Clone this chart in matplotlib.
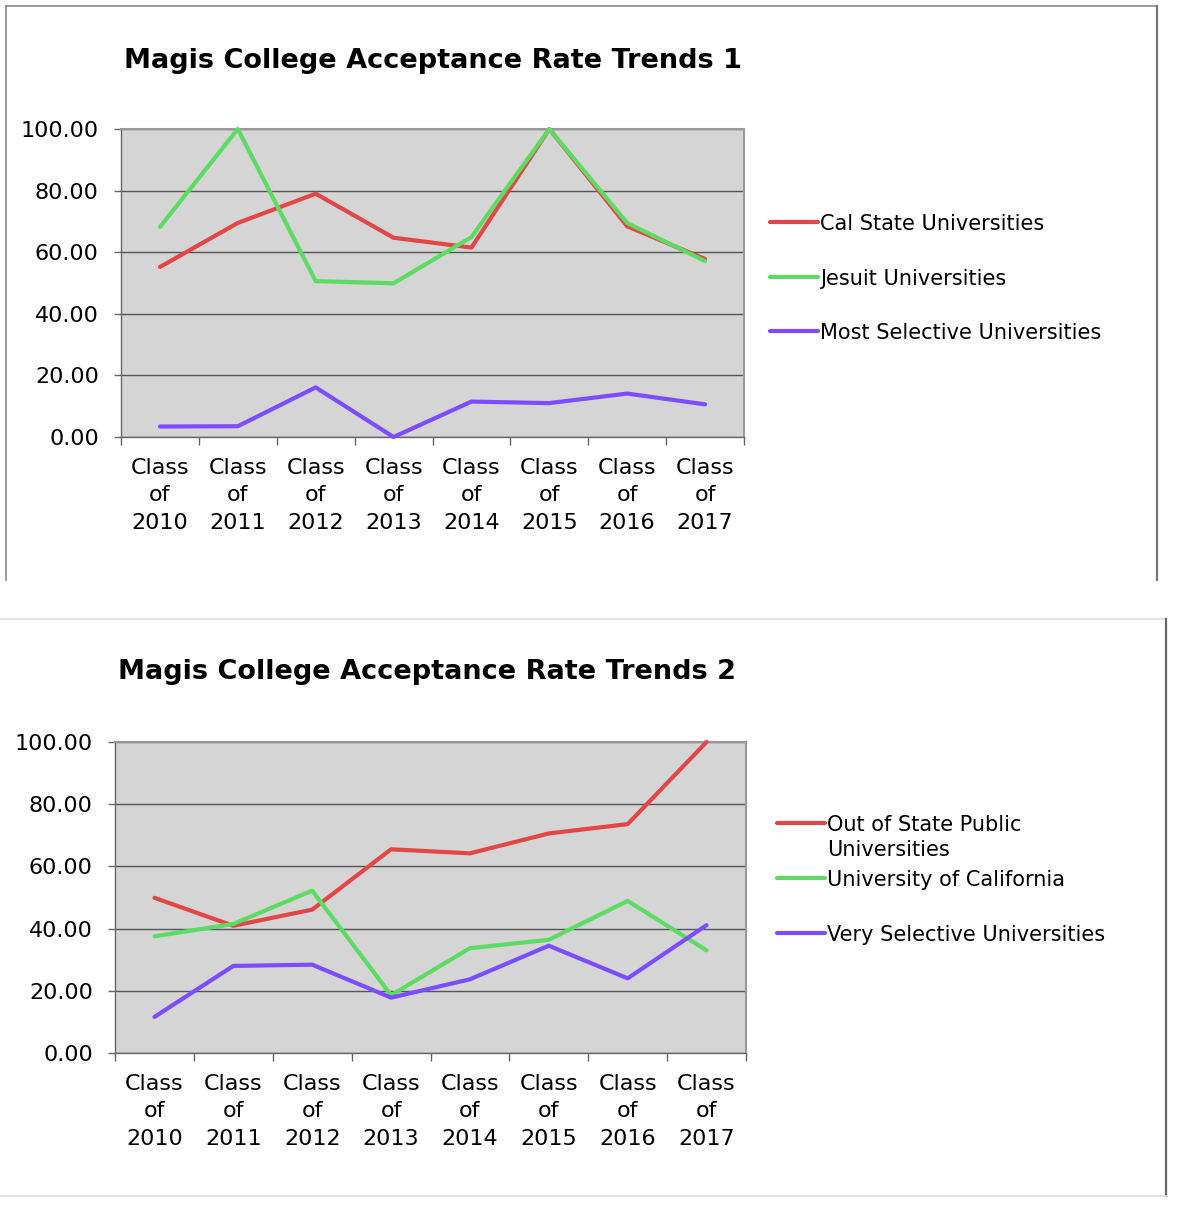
import matplotlib
matplotlib.use("Agg")
import matplotlib.pyplot as plt
from matplotlib.lines import Line2D
from matplotlib.ticker import FixedLocator, FormatStrFormatter

# --- data ---
classes = ["Class\nof\n2010", "Class\nof\n2011", "Class\nof\n2012", "Class\nof\n2013",
           "Class\nof\n2014", "Class\nof\n2015", "Class\nof\n2016", "Class\nof\n2017"]

cal_state = [55.2, 69.5, 79.0, 64.7, 61.5, 100.0, 68.4, 57.8]
jesuit = [68.2, 100.0, 50.6, 49.9, 64.9, 100.0, 69.5, 57.1]
most_selective = [3.4, 3.5, 16.1, 0.0, 11.5, 11.0, 14.1, 10.6]

out_of_state = [49.9, 40.9, 46.1, 65.5, 64.2, 70.6, 73.6, 100.0]
univ_california = [37.5, 41.5, 52.2, 18.6, 33.7, 36.4, 48.9, 33.0]
very_selective = [11.6, 28.0, 28.4, 17.8, 23.7, 34.5, 24.0, 41.1]

labels_1 = ["Cal State Universities", "Jesuit Universities", "Most Selective Universities"]
labels_2 = ["Out of State Public\nUniversities", "University of California",
            "Very Selective Universities"]
titles = ["Magis College Acceptance Rate Trends 1", "Magis College Acceptance Rate Trends 2"]

colors = ["#e24646", "#5cdc62", "#7c4cff"]

W, H = 1186, 1214
fig = plt.figure(figsize=(W / 100, H / 100), dpi=100)


def fx(px):
    return px / W


def fy(py):
    return 1 - py / H


def border(x0, y0, x1, y1, color, lw=1.2):
    fig.add_artist(Line2D([fx(x0), fx(x1)], [fy(y0), fy(y1)], color=color, lw=lw,
                          transform=fig.transFigure))


def draw_chart(box, series, labels, title, title_xy, leg_x, leg_y):
    left, top, right, bottom = box
    ax = fig.add_axes([fx(left), fy(bottom), fx(right - left), (bottom - top) / H])
    ax.set_facecolor("#d5d5d5")
    x = list(range(len(classes)))
    for vals, c in zip(series, colors):
        ax.plot(x, vals, color=c, lw=3, solid_capstyle="round", solid_joinstyle="round",
                clip_on=False, zorder=3)
    ax.set_xlim(-0.5, len(classes) - 0.5)
    ax.set_ylim(0, 100)
    ax.set_yticks(range(0, 101, 20))
    ax.yaxis.set_major_formatter(FormatStrFormatter("%.2f"))
    ax.set_xticks(x)
    ax.set_xticklabels(classes)
    for lbl in ax.get_xticklabels():
        lbl.set_linespacing(1.46)
    ax.xaxis.set_minor_locator(FixedLocator([i - 0.5 for i in range(len(classes) + 1)]))
    ax.tick_params(axis="x", which="major", length=0, pad=15, labelsize=16)
    ax.tick_params(axis="x", which="minor", length=6, color="#666666", width=1)
    ax.tick_params(axis="y", length=5, color="#666666", width=1, pad=11, labelsize=16)
    ax.grid(axis="y", color="#555555", lw=1)
    ax.set_axisbelow(True)
    for side in ["top", "right"]:
        ax.spines[side].set_color("#999999")
        ax.spines[side].set_linewidth(1.5)
    for side in ["left", "bottom"]:
        ax.spines[side].set_color("#666666")
        ax.spines[side].set_linewidth(1)

    fig.text(fx(title_xy[0]), fy(title_xy[1]), title, ha="center", va="center",
             fontsize=19.5, fontweight="bold")

    # legend drawn by hand so the swatch sits on the first text line
    for i, (lab, c) in enumerate(zip(labels, colors)):
        y = leg_y[i]
        fig.add_artist(Line2D([fx(leg_x), fx(leg_x + 48)], [fy(y), fy(y)], color=c, lw=3,
                              solid_capstyle="round", transform=fig.transFigure))
        for k, part in enumerate(lab.split("\n")):
            fig.text(fx(leg_x + 50), fy(y + 8 + 25 * k), part, ha="left", va="baseline",
                     fontsize=15)
    return ax


ax1 = draw_chart((121, 129, 744, 437), [cal_state, jesuit, most_selective], labels_1,
                 titles[0], (433, 61), 770, [222, 277, 331])
ax2 = draw_chart((115, 742, 746, 1053), [out_of_state, univ_california, very_selective],
                 labels_2, titles[1], (427, 672), 777, [823, 878, 933])

# panel frames
border(6, 6, 1157, 6, "#888888")
border(6, 6, 6, 580, "#888888")
border(1157, 6, 1157, 580, "#777777", 1.6)
border(0, 619, 1166, 619, "#dddddd")
border(1166, 619, 1166, 1196, "#666666", 1.6)
border(0, 1196, 1166, 1196, "#dddddd")

fig.savefig("out.png", dpi=100)
